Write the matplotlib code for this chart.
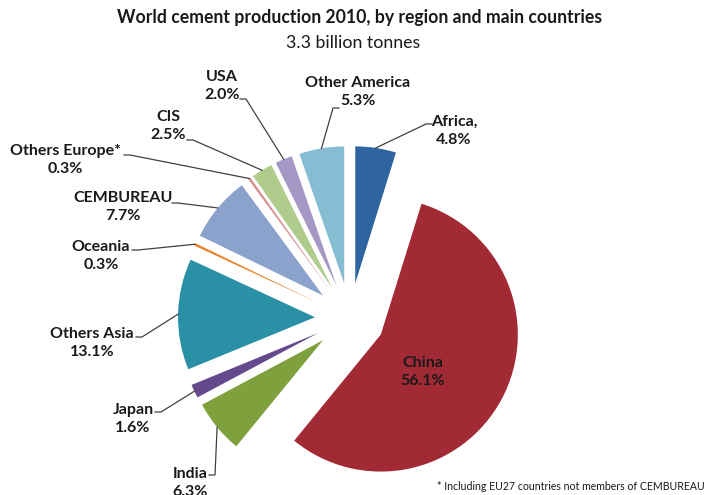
import matplotlib.pyplot as plt
import numpy as np

plt.rcParams['font.family'] = ['Lato', 'DejaVu Sans']

##########
# data

regions = ['Africa,', 'China', 'India', 'Japan', 'Others Asia', 'Oceania',
           'CEMBUREAU', 'Others Europe*', 'CIS', 'USA', 'Other America']
shares = [4.8, 56.1, 6.3, 1.6, 13.1, 0.3, 7.7, 0.3, 2.5, 2.0, 5.3]
colors = ['#2e64a0', '#a12a35', '#7ea13d', '#644a8c', '#2a90a5', '#e8822a',
          '#8ba2cc', '#d98c8c', '#b0cc8c', '#a698c4', '#86bdd2']

title = 'World cement production 2010, by region and main countries'
subtitle = '3.3 billion tonnes'
footnote = '* Including EU27 countries not members of CEMBUREAU'

##########
# layout (pixel coords, y from top)

W, H = 707, 495
cx, cy = 350, 318
radius = 137
explode = 35

# text centre, leader start, elbow direction (+1 right / -1 left); None = inside
label_layout = [
    ((454, 131), (432, 124), -1),
    ((423, 372), None, 0),
    ((190, 483), (209, 475), 1),
    ((133, 419), (155, 412), 1),
    ((92, 343), (136, 337), 1),
    ((101, 256), (132, 250), 1),
    ((123, 207), (172, 203), 1),
    ((65, 160), (124, 155), 1),
    ((168, 126), (187, 140), 1),
    ((222, 86), (240, 99), 1),
    ((358, 92), (339, 108), -1),
]

def fy(y):
    return H - y

fig = plt.figure(figsize=(W / 100, H / 100), dpi=100)
ax = fig.add_axes([0, 0, 1, 1])

wedges, _ = ax.pie(shares, colors=colors, startangle=90, counterclock=False,
                   center=(cx, fy(cy)), radius=radius,
                   explode=[explode] * len(shares),
                   wedgeprops=dict(linewidth=0))

ax.set_xlim(0, W)
ax.set_ylim(0, H)
ax.set_aspect('equal')
ax.axis('off')

##########
# labels and leader lines

for w, name, val, (tpos, lstart, d) in zip(wedges, regions, shares, label_layout):
    txt = f'{name}\n{val:.1f}%'
    ax.text(tpos[0], fy(tpos[1]), txt, ha='center', va='center',
            fontsize=11.5, fontweight='bold', color='#1a1a1a', linespacing=1.4)
    if lstart is None:
        continue
    th = np.deg2rad((w.theta1 + w.theta2) / 2)
    px = w.center[0] + w.r * np.cos(th)
    py = w.center[1] + w.r * np.sin(th)
    xs = [lstart[0], lstart[0] + 6 * d, px]
    ys = [fy(lstart[1]), fy(lstart[1]), py]
    ax.plot(xs, ys, color='#404040', lw=0.9)

ax.text(360, fy(17), title, ha='center', va='center',
        fontsize=12.7, fontweight='bold', color='#1a1a1a')
ax.text(353, fy(43), subtitle, ha='center', va='center',
        fontsize=12.8, color='#1a1a1a')
ax.text(705, fy(487), footnote, ha='right', va='center',
        fontsize=7.6, color='#1a1a1a')

fig.savefig('out.png', dpi=100)
